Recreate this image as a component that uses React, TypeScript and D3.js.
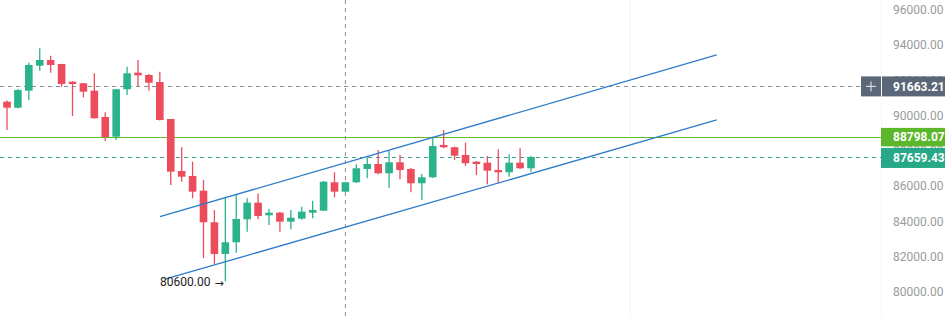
import React from "react";
import * as d3 from "d3";

const W = 945;
const H = 318;

const openP = [90796, 90456, 91420, 92839, 93162, 92935, 91931, 91840, 91420, 89928, 88810, 91500, 92442, 92311, 91914, 89814, 86863, 86579, 85745, 83952, 82153, 82817, 84122, 85064, 84349, 84497, 83986, 84156, 84497, 84610, 86222, 85689, 86222, 86977, 87260, 86733, 87357, 86977, 86165, 86506, 88339, 88208, 87771, 87391, 87334, 86920, 86789, 87334, 87016];
const closeP = [90456, 91460, 92879, 93162, 92879, 91800, 91800, 91364, 89854, 88793, 91500, 92408, 92294, 91874, 89757, 86824, 86540, 85689, 83952, 82153, 82817, 84139, 85064, 84309, 84497, 83986, 84213, 84554, 84650, 86256, 85689, 86222, 87016, 87260, 86733, 87357, 86920, 86165, 86506, 88282, 88208, 87731, 87300, 87260, 86880, 86789, 87334, 87016, 87659.43];
const highP = [90864, 91517, 93009, 93826, 93407, 92950, 91960, 91860, 92408, 90195, 91520, 92782, 93162, 92370, 92499, 89814, 88208, 87391, 86352, 84650, 85371, 85541, 85314, 85586, 84707, 84530, 84650, 84837, 85178, 86290, 86789, 86250, 87243, 87641, 88055, 88015, 87771, 87030, 86693, 88810, 89190, 88250, 88469, 87420, 87714, 88095, 87811, 88151, 87714];
const lowP = [89190, 90410, 90892, 92555, 92442, 91647, 89984, 91046, 89840, 88566, 88620, 91176, 91687, 91420, 89730, 86069, 86256, 85314, 81909, 81585, 80600, 82227, 83419, 84122, 83799, 83419, 83555, 84100, 84179, 84590, 85371, 85660, 86180, 86449, 86676, 85915, 86392, 85654, 85217, 86470, 88150, 87487, 87147, 86636, 86108, 86165, 86540, 86980, 86823];

const yTicks = [96000, 94000, 92000, 90000, 88000, 86000, 84000, 82000, 80000];

// channel lines: [index, price] endpoints
const upperChannel: [number, number][] = [[14.01, 84270], [65.01, 93446]];
const lowerChannel: [number, number][] = [[14.47, 80723], [65.01, 89757]];

const crosshairIndex = 31;
const crosshairPrice = 91663.21;
const greenLevel = 88798.07;
const lastPrice = 87659.43;
const lowMarkPrice = 80600;
const lowMarkLabel = "80600.00";

const UP = "#2bb38c";
const DOWN = "#ec4c5c";

export default function App() {
  const x = d3.scaleLinear().domain([0, 48]).range([7, 531]);
  const y = d3.scaleLinear().domain([80000, 96000]).range([291.9, 10]);
  const bodyW = 7.6;
  const fmt = d3.format(".2f");
  const line = d3
    .line<[number, number]>()
    .x((d) => x(d[0]))
    .y((d) => y(d[1]));

  const font = "Roboto, 'Noto Sans', sans-serif";

  return (
    <div style={{ position: "absolute", left: 0, top: 0 }}>
      <svg width={W} height={H} style={{ display: "block", background: "#fff" }}>
        {/* faint vertical grid */}
        <line x1={630} x2={630} y1={0} y2={H} stroke="#f4f4f4" />
        <line x1={881.5} x2={881.5} y1={0} y2={H} stroke="#f5f5f5" />

        {/* y axis labels */}
        {yTicks.map((t) => (
          <text
            key={t}
            x={893}
            y={y(t) + 1}
            dominantBaseline="middle"
            fontSize={12}
            fontFamily={font}
            fill="#9a9a9a"
          >
            {fmt(t)}
          </text>
        ))}

        {/* crosshair */}
        <line
          x1={x(crosshairIndex)}
          x2={x(crosshairIndex)}
          y1={0}
          y2={H}
          stroke="#8c8c8c"
          strokeDasharray="4,4"
        />
        <line
          x1={0}
          x2={861}
          y1={Math.round(y(crosshairPrice)) + 0.5}
          y2={Math.round(y(crosshairPrice)) + 0.5}
          stroke="#8c8c8c"
          strokeDasharray="4,4"
        />

        {/* last price dashed */}
        <line
          x1={0}
          x2={881}
          y1={Math.round(y(lastPrice)) + 0.5}
          y2={Math.round(y(lastPrice)) + 0.5}
          stroke="#3f9e92"
          strokeDasharray="4,4"
        />

        {/* green level */}
        <line
          x1={0}
          x2={881}
          y1={Math.round(y(greenLevel)) + 0.5}
          y2={Math.round(y(greenLevel)) + 0.5}
          stroke="#5fbf2a"
          strokeWidth={1.1}
        />

        {/* candles */}
        {openP.map((o, i) => {
          const c = closeP[i];
          const up = c >= o;
          const col = up ? UP : DOWN;
          const cx = x(i);
          const top = y(Math.max(o, c));
          const bot = y(Math.min(o, c));
          return (
            <g key={i}>
              <line
                x1={cx}
                x2={cx}
                y1={y(highP[i])}
                y2={y(lowP[i])}
                stroke={col}
                strokeWidth={1.3}
              />
              <rect
                x={cx - bodyW / 2}
                y={top}
                width={bodyW}
                height={Math.max(bot - top, 1.5)}
                fill={col}
              />
            </g>
          );
        })}

        {/* channel */}
        <path d={line(upperChannel) || ""} stroke="#2f7bc8" strokeWidth={1.3} fill="none" />
        <path d={line(lowerChannel) || ""} stroke="#2f7bc8" strokeWidth={1.3} fill="none" />

        {/* low annotation */}
        <text
          x={160}
          y={y(lowMarkPrice) + 1.5}
          dominantBaseline="middle"
          fontSize={12}
          fontFamily={font}
          fill="#222"
        >
          {lowMarkLabel}
          <tspan dx={4} dy={1} fontSize={11} fontFamily="'DejaVu Sans', sans-serif">→</tspan>
        </text>

        {/* crosshair price box */}
        <rect x={861} y={y(crosshairPrice) - 10} width={20} height={20} fill="#5b6778" />
        <line x1={866} x2={876} y1={y(crosshairPrice)} y2={y(crosshairPrice)} stroke="#d8dde3" strokeWidth={1.2} />
        <line x1={871} x2={871} y1={y(crosshairPrice) - 5} y2={y(crosshairPrice) + 5} stroke="#d8dde3" strokeWidth={1.2} />
        <rect x={882} y={y(crosshairPrice) - 10} width={63} height={20} fill="#5b6778" />
        <text
          x={893}
          y={y(crosshairPrice) + 1}
          dominantBaseline="middle"
          fontSize={12}
          fontWeight="bold"
          fontFamily={font}
          fill="#fff"
        >
          {fmt(crosshairPrice)}
        </text>

        {/* green level box */}
        <rect x={881} y={y(greenLevel) - 9} width={64} height={18.5} fill="#5cb82a" />
        <text
          x={893}
          y={y(greenLevel) + 0.5}
          dominantBaseline="middle"
          fontSize={12}
          fontWeight="bold"
          fontFamily={font}
          fill="#fff"
        >
          {fmt(greenLevel)}
        </text>

        {/* last price box */}
        <rect x={881} y={y(lastPrice) - 9} width={64} height={20} fill="#27a886" />
        <text
          x={893}
          y={y(lastPrice) + 1.5}
          dominantBaseline="middle"
          fontSize={12}
          fontWeight="bold"
          fontFamily={font}
          fill="#fff"
        >
          {fmt(lastPrice)}
        </text>
      </svg>
    </div>
  );
}
